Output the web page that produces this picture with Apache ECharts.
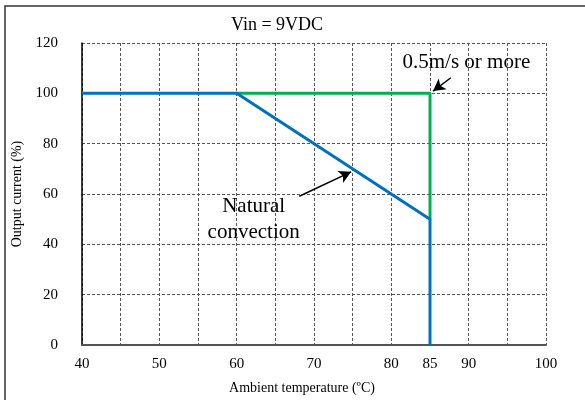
<!DOCTYPE html>
<html>
<head>
<meta charset="utf-8">
<script src="https://cdn.jsdelivr.net/npm/echarts@6/dist/echarts.min.js"></script>
<style>html,body{margin:0;padding:0;background:#fff}#c{width:585px;height:400px}</style>
</head>
<body>
<div id="c"></div>
<script>
var titleText = 'Vin = 9VDC';
var xName = 'Ambient temperature (ºC)';
var yName = 'Output current (%)';
var xTickLabels = [40, 50, 60, 70, 80, 85, 90, 100];
var naturalConvection = [[40, 100], [60, 100], [85, 50], [85, 0]];
var forcedAir = [[60, 100], [85, 100], [85, 50]];
var forcedLabel = '0.5m/s or more';
var naturalLabel = 'Natural\nconvection';
var forcedArrow = [[87.7, 106.2], [85.4, 100.9]];
var naturalArrow = [[68.1, 59.1], [74.8, 68.8]];
var forcedLabelPos = [89.7, 112.2];
var naturalLabelPos = [62.2, 49.8];

var FONT = "'Liberation Serif','Times New Roman',serif";
var chart = echarts.init(document.getElementById('c'));
chart.setOption({
  animation: false,
  textStyle: {fontFamily: FONT},
  title: {text: titleText, left: 272, top: 11, textAlign: 'center',
    textStyle: {fontFamily: FONT, fontWeight: 'normal', fontSize: 18, color: '#000'}},
  graphic: [{type: 'rect', shape: {x: 5, y: 6, width: 700, height: 500},
    style: {fill: 'none', stroke: '#333', lineWidth: 1.5}, silent: true}],
  grid: {left: 82, right: 39, top: 43, bottom: 54},
  xAxis: {
    type: 'value', min: 40, max: 100, interval: 5,
    name: xName, nameLocation: 'middle', nameGap: 36,
    nameTextStyle: {fontFamily: FONT, fontSize: 14, color: '#000', padding: [0, 24, 0, 0]},
    axisLine: {lineStyle: {color: '#555', width: 2}},
    axisTick: {show: false},
    axisLabel: {margin: 12, fontFamily: FONT, fontSize: 15, color: '#000',
      formatter: function (v) { return xTickLabels.indexOf(v) >= 0 ? String(v) : ''; }},
    splitLine: {show: true, lineStyle: {type: [3, 2], color: '#555', width: 1}}
  },
  yAxis: {
    type: 'value', min: 0, max: 120, interval: 20,
    name: yName, nameLocation: 'middle', nameGap: 52,
    nameTextStyle: {fontFamily: FONT, fontSize: 14, color: '#000'},
    axisLine: {show: true, lineStyle: {color: '#000', width: 1.5}},
    axisTick: {show: false},
    axisLabel: {margin: 24, fontFamily: FONT, fontSize: 15, color: '#000'},
    splitLine: {show: true, lineStyle: {type: [3, 2], color: '#555', width: 1}}
  },
  series: [
    {type: 'line', data: forcedAir, symbol: 'none', z: 3,
      lineStyle: {color: '#00B050', width: 3}},
    {type: 'line', data: naturalConvection, symbol: 'none', z: 4,
      lineStyle: {color: '#0070C0', width: 3},
      markLine: {silent: true, symbol: ['none', 'arrow'], symbolSize: [10, 12],
        lineStyle: {color: '#000', width: 1.5, type: 'solid'}, label: {show: false},
        data: [
          [{coord: forcedArrow[0]}, {coord: forcedArrow[1]}],
          [{coord: naturalArrow[0]}, {coord: naturalArrow[1]}]
        ]},
      markPoint: {silent: true, symbol: 'circle', symbolSize: 0,
        label: {show: true, position: 'inside', fontFamily: FONT, fontSize: 21, color: '#000', lineHeight: 26},
        data: [
          {coord: forcedLabelPos, value: forcedLabel, label: {formatter: forcedLabel}},
          {coord: naturalLabelPos, value: 0, label: {formatter: naturalLabel}}
        ]}
    }
  ]
});
</script>
</body>
</html>
